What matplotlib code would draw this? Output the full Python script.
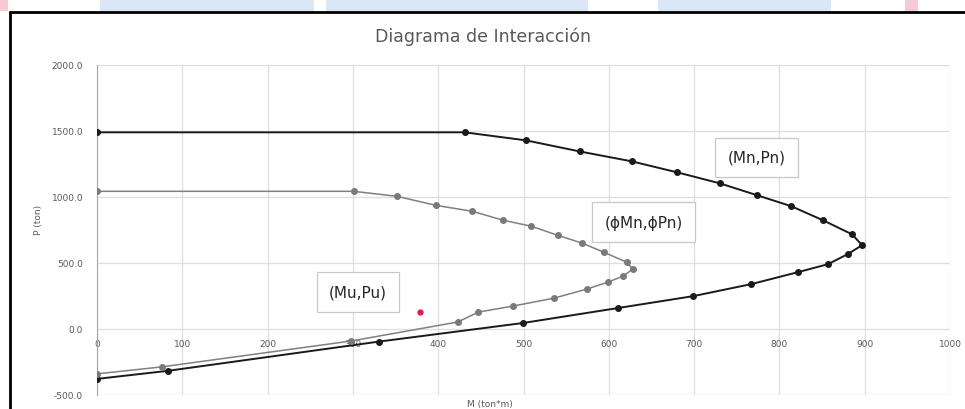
import numpy as np
import matplotlib
matplotlib.use('Agg')
import matplotlib.pyplot as plt
from matplotlib.patches import Rectangle

# Data
mn = [0, 431, 503, 566, 627, 680, 730, 774, 814, 851, 885, 897, 880, 857,
      822, 767, 699, 611, 499, 331, 83, 0]
pn = [1490, 1490, 1429, 1345, 1270, 1187, 1104, 1013, 930, 824, 718, 635,
      567, 491, 431, 340, 249, 159, 45, -95, -317, -378]

phi_mn = [0, 301, 352, 397, 440, 476, 509, 540, 569, 594, 621, 628, 617,
          599, 574, 536, 488, 447, 423, 298, 76, 0]
phi_pn = [1043, 1043, 1005, 937, 892, 824, 779, 710, 650, 582, 506, 454,
          401, 355, 302, 234, 174, 128, 53, -91, -287, -340]

mu = [379]
pu = [128]

x_ticks = [0, 100, 200, 300, 400, 500, 600, 700, 800, 900, 1000]
y_ticks = [-500, 0, 500, 1000, 1500, 2000]

#Figure
fig = plt.figure(figsize=(9.65, 4.10), dpi=100)
ax = fig.add_axes([97/965, 14/410, 853/965, 330/410])

ax.set_xlim(0, 1000)
ax.set_ylim(-500, 2000)
ax.set_xticks(x_ticks)
ax.set_yticks(y_ticks)
ax.set_yticklabels(['%.1f' % v for v in y_ticks])
ax.grid(True, color='#dedede', linewidth=0.9)
ax.set_axisbelow(True)

for s in ['top', 'right']:
    ax.spines[s].set_visible(False)
ax.spines['bottom'].set_position(('data', 0))
ax.spines['bottom'].set_visible(False)
ax.spines['left'].set_color('#a6a6a6')
ax.tick_params(axis='both', length=0, labelsize=6.5, labelcolor='#595959')
ax.tick_params(axis='x', pad=7)
ax.tick_params(axis='y', pad=10)

#Curves
ax.plot(mn, pn, color='#1a1a1a', lw=1.4, marker='o', ms=4, zorder=3)
ax.plot(phi_mn, phi_pn, color='#808080', lw=1.1, marker='o', ms=4,
        mfc='#7a7a7a', mec='#7a7a7a', zorder=3)
ax.plot(mu, pu, linestyle='none', marker='o', ms=3.5, color='#e8174a', zorder=4)

#Labels
box = dict(boxstyle='square,pad=0.8', fc='white', ec='#c8c8c8', lw=0.9)
ax.text(773, 1300, '(Mn,Pn)', fontsize=11, color='#262626', ha='center', va='center', bbox=box)
ax.text(641, 809, '(ϕMn,ϕPn)', fontsize=11, color='#262626', ha='center', va='center', bbox=box)
ax.text(306, 280, '(Mu,Pu)', fontsize=11, color='#262626', ha='center', va='center', bbox=box)

fig.text(483/965, 1 - 37/410, 'Diagrama de Interacción', fontsize=12.5,
         color='#595959', ha='center', va='center')
fig.text(38/965, 1 - 220/410, 'P (ton)', fontsize=6.5, color='#595959',
         rotation=90, ha='center', va='center')
fig.text(490/965, 1 - 405/410, 'M (ton*m)', fontsize=6.5, color='#595959',
         ha='center', va='center')

#Background bits of the screenshot above the frame
for x0, x1, c in [(100, 314, '#d9e7f6'), (326, 588, '#d9e7f6'),
                  (658, 831, '#d9e7f6'), (0, 8, '#f6c9d3'), (905, 918, '#f6c9d3')]:
    fig.add_artist(Rectangle((x0/965, 1 - 12/410), (x1 - x0)/965, 12/410,
                             transform=fig.transFigure, color=c, lw=0))

#Frame
fig.add_artist(Rectangle((10/965, -0.05), 1.0, 1.05 - 13/410,
                         transform=fig.transFigure, fill=False,
                         edgecolor='black', lw=2))

plt.savefig('out.png', dpi=100)
